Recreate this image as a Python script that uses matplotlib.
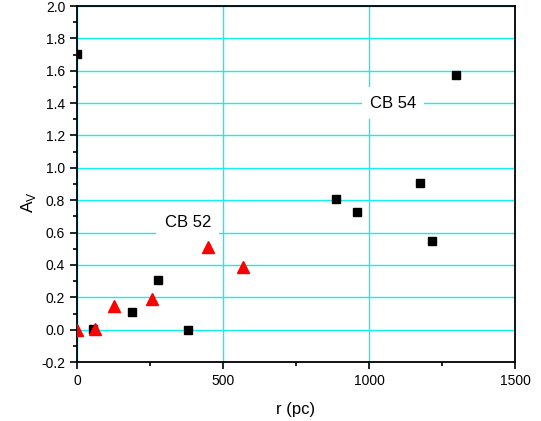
import matplotlib
matplotlib.use("Agg")
import matplotlib.pyplot as plt
from matplotlib.ticker import MultipleLocator

plt.rcParams['font.family'] = ['Liberation Sans', 'DejaVu Sans']

# datos
cb54_r = [0, 55, 190, 277, 380, 887, 959, 1175, 1216, 1298]
cb54_av = [1.705, 0.005, 0.107, 0.31, 0.0, 0.81, 0.73, 0.905, 0.55, 1.573]

cb52_r = [0, 62, 127, 257, 449, 568]
cb52_av = [0.0, 0.005, 0.145, 0.19, 0.51, 0.39]

fig = plt.figure(figsize=(5.41, 4.21), dpi=100)
ax = fig.add_axes([0.1423, 0.140, 0.8097, 0.8457])

ax.plot(cb54_r, cb54_av, 's', color='black', markersize=6.3, zorder=3)
ax.plot(cb52_r, cb52_av, '^', color='red', markersize=8, zorder=3)

ax.set_xlim(0, 1500)
ax.set_ylim(-0.2, 2.0)
ax.xaxis.set_major_locator(MultipleLocator(500))
ax.xaxis.set_minor_locator(MultipleLocator(250))
ax.yaxis.set_major_locator(MultipleLocator(0.2))
ax.yaxis.set_minor_locator(MultipleLocator(0.1))
ax.yaxis.set_major_formatter(plt.FuncFormatter(lambda v, p: f'{v:.1f}'))

ax.grid(True, which='major', color='#10f0f0', linewidth=1.0, zorder=0)
ax.set_axisbelow(True)

ax.tick_params(which='major', direction='out', length=5, width=1.2, labelsize=10)
ax.tick_params(which='minor', direction='out', length=3, width=1.2)
for s in ax.spines.values():
    s.set_linewidth(1.3)

ax.text(380, 0.665, 'CB 52', fontsize=12, ha='center', va='center',
        bbox=dict(facecolor='white', edgecolor='none', pad=6), zorder=2)
ax.text(1082, 1.40, 'CB 54', fontsize=12, ha='center', va='center',
        bbox=dict(facecolor='white', edgecolor='none', pad=6), zorder=2)

ax.set_xlabel('r (pc)', fontsize=12, labelpad=10)
ax.set_ylabel('A$_\\mathregular{V}$', fontsize=12.5)
ax.yaxis.set_label_coords(-0.09, 0.45)

fig.savefig('out.png', dpi=100)
